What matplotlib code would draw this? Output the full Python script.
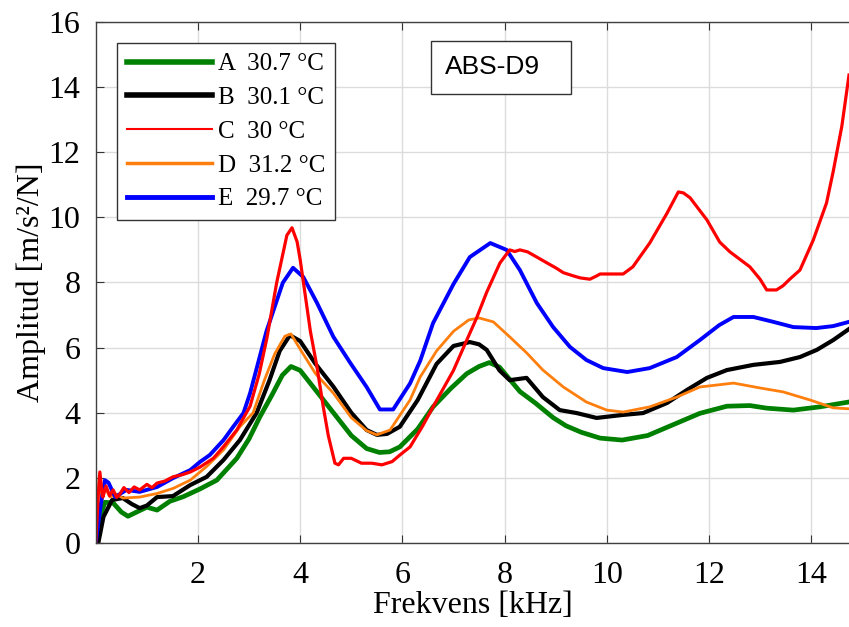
import numpy as np
import matplotlib
matplotlib.use('Agg')
import matplotlib.pyplot as plt
from matplotlib.patches import Rectangle

# values (frequency in kHz, amplitude in m/s^2/N)
f_A = [0, 0.08, 0.18, 0.34, 0.5, 0.63, 0.8, 1.0, 1.2, 1.45, 1.71, 2.04, 2.37, 2.76, 3.0, 3.21,
       3.45, 3.65, 3.82, 4.0, 4.3, 4.65, 5.0, 5.3, 5.55, 5.75, 5.95, 6.3, 6.6, 6.95, 7.26, 7.5,
       7.7, 7.9, 8.3, 8.6, 8.95, 9.2, 9.5, 9.87, 10.3, 10.8, 11.37, 11.82, 12.35, 12.8, 13.13,
       13.65, 14.17, 14.74]
a_A = [0, 0.8, 1.25, 1.23, 0.95, 0.82, 0.95, 1.1, 1.01, 1.28, 1.42, 1.66, 1.93, 2.6, 3.2, 3.87,
       4.55, 5.15, 5.42, 5.3, 4.7, 4.0, 3.3, 2.9, 2.78, 2.8, 2.95, 3.5, 4.18, 4.75, 5.2, 5.42,
       5.54, 5.4, 4.65, 4.3, 3.85, 3.6, 3.4, 3.22, 3.16, 3.3, 3.68, 3.98, 4.2, 4.22, 4.14,
       4.08, 4.18, 4.33]

f_B = [0.05, 0.15, 0.32, 0.53, 0.7, 0.86, 1.0, 1.2, 1.51, 1.85, 2.17, 2.5, 2.82, 3.15, 3.4, 3.6,
       3.8, 4.0, 4.3, 4.65, 5.0, 5.3, 5.5, 5.7, 5.95, 6.3, 6.67, 7.0, 7.32, 7.5, 7.65, 7.9, 8.1,
       8.43, 8.75, 9.08, 9.41, 9.8, 10.3, 10.71, 11.18, 11.57, 11.96, 12.35, 12.87, 13.39,
       13.78, 14.11, 14.43, 14.74]
a_B = [0, 0.8, 1.32, 1.38, 1.2, 1.07, 1.15, 1.41, 1.44, 1.78, 2.03, 2.55, 3.16, 4.0, 5.0, 5.9,
       6.38, 6.2, 5.5, 4.8, 4.0, 3.47, 3.32, 3.35, 3.57, 4.39, 5.5, 6.05, 6.17, 6.1, 5.93, 5.3, 5.0,
       5.07, 4.48, 4.08, 3.99, 3.84, 3.93, 3.99, 4.3, 4.7, 5.07, 5.31, 5.47, 5.56,
       5.71, 5.93, 6.23, 6.57]

f_C = [0, 0.05, 0.08, 0.12, 0.14, 0.2, 0.27, 0.34, 0.41, 0.47, 0.55, 0.65, 0.75, 0.86, 1.0, 1.1,
       1.2, 1.35, 1.51, 1.7, 1.85, 2.04, 2.3, 2.5, 2.76, 3.02, 3.2, 3.35, 3.54, 3.74, 3.84, 3.94,
       4.0, 4.1, 4.2, 4.33, 4.45, 4.55, 4.68, 4.75, 4.85, 5.0, 5.2, 5.4, 5.6, 5.8, 5.95, 6.15,
       6.4, 6.6, 7.0, 7.26, 7.45, 7.65, 7.91, 8.1, 8.2, 8.3, 8.45, 8.63, 8.83, 9.0, 9.15, 9.35,
       9.48, 9.67, 9.8, 9.87, 10.1, 10.32, 10.51, 10.84, 11.18, 11.4, 11.5, 11.63, 11.96, 12.21,
       12.41, 12.8, 13.0, 13.13, 13.32, 13.45, 13.58, 13.78, 14.04, 14.3, 14.43, 14.6, 14.74]
a_C = [0, 1.5, 2.18, 1.6, 1.41, 1.75, 1.45, 1.63, 1.4, 1.5, 1.7, 1.55, 1.72, 1.63, 1.8, 1.7,
       1.84, 1.9, 2.03, 2.1, 2.18, 2.33, 2.6, 2.96, 3.47, 4.2, 5.2, 6.3, 7.99, 9.45, 9.68, 9.25,
       8.7, 7.6, 6.5, 5.4, 4.2, 3.3, 2.45, 2.4, 2.6, 2.6, 2.45, 2.45, 2.4, 2.5, 2.7, 2.95,
       3.6, 4.18, 5.3, 6.23, 6.9, 7.7, 8.6, 9.0, 8.95, 9.0, 8.94, 8.78, 8.6, 8.45, 8.3, 8.2,
       8.14, 8.1, 8.2, 8.26, 8.26, 8.26, 8.48, 9.21, 10.13, 10.78, 10.75, 10.6, 9.92, 9.24,
       8.94, 8.48, 8.1, 7.77, 7.77, 7.9, 8.1, 8.38, 9.3, 10.44, 11.4, 12.8, 14.37]

f_D = [0, 0.07, 0.12, 0.18, 0.28, 0.4, 0.53, 0.86, 1.2, 1.52, 1.85, 2.17, 2.5, 2.82, 3.08, 3.3,
       3.5, 3.7, 3.82, 4.0, 4.3, 4.65, 5.0, 5.3, 5.5, 5.76, 6.15, 6.35, 6.67, 7.0, 7.3, 7.5, 7.78,
       8.1, 8.43, 8.75, 9.15, 9.6, 10.0, 10.32, 10.84, 11.37, 11.82, 12.48, 13.0, 13.45, 13.98,
       14.43, 14.74]
a_D = [0, 2.1, 1.3, 1.7, 1.41, 1.5, 1.38, 1.41, 1.52, 1.68, 1.93, 2.35, 2.86, 3.57, 4.0, 5.0,
       5.8, 6.35, 6.42, 5.95, 5.2, 4.6, 3.85, 3.45, 3.32, 3.47, 4.39, 5.1, 5.9, 6.5, 6.85, 6.91, 6.79,
       6.33, 5.84, 5.31, 4.79, 4.33, 4.08, 4.02, 4.18, 4.48, 4.79, 4.91, 4.76, 4.64, 4.39,
       4.15, 4.12]

f_E = [0, 0.1, 0.18, 0.25, 0.38, 0.6, 0.86, 1.2, 1.51, 1.85, 2.04, 2.23, 2.5, 2.69, 2.89, 3.02,
       3.34, 3.66, 3.86, 4.06, 4.33, 4.65, 4.98, 5.3, 5.56, 5.82, 6.15, 6.35, 6.6, 7.0, 7.32, 7.72,
       8.04, 8.3, 8.63, 8.95, 9.28, 9.6, 9.93, 10.4, 10.84, 11.37, 11.82, 12.2, 12.48, 12.87,
       13.26, 13.65, 14.1, 14.43, 14.74]
a_E = [0, 1.2, 1.93, 1.85, 1.41, 1.63, 1.57, 1.72, 1.99, 2.24, 2.49, 2.7, 3.16, 3.57, 3.99, 4.6,
       6.5, 7.99, 8.45, 8.17, 7.37, 6.33, 5.53, 4.79, 4.1, 4.1, 4.9, 5.6, 6.75, 7.95, 8.78, 9.21,
       9.0, 8.38, 7.37, 6.63, 6.02, 5.62, 5.37, 5.25, 5.37, 5.71, 6.23, 6.69, 6.94, 6.94,
       6.79, 6.63, 6.6, 6.66, 6.79]

labels = ['A  30.7 °C', 'B  30.1 °C', 'C  30 °C', 'D  31.2 °C', 'E  29.7 °C']

plt.rcParams['font.family'] = ['Liberation Serif', 'DejaVu Serif']

fig = plt.figure(figsize=(8.49, 6.27), dpi=100)
ax = fig.add_axes([0.1128, 0.134, 0.8872, 0.831])

lA, = ax.plot(f_A, a_A, color='#008000', lw=3.4, label=labels[0])
lB, = ax.plot(f_B, a_B, color='black', lw=3.0, label=labels[1])
lC, = ax.plot(f_C, a_C, color='#ff0000', lw=2.3, label=labels[2])
lD, = ax.plot(f_D, a_D, color='#ff7f0e', lw=2.0, label=labels[3])
lE, = ax.plot(f_E, a_E, color='#0000ff', lw=2.8, label=labels[4])
lC.set_zorder(2.5)

ax.set_xlim(0, 14.74)
ax.set_ylim(0, 16)
ax.set_xticks([2, 4, 6, 8, 10, 12, 14])
ax.set_yticks(range(0, 17, 2))
ax.grid(True, color='#dcdcdc', lw=1.0)
ax.set_axisbelow(True)
ax.tick_params(direction='in', length=6, top=True, right=False, labelsize=23,
               color='#333333')
ax.tick_params(axis='x', pad=13)
ax.tick_params(axis='y', pad=11)
for s in ['left', 'bottom', 'top']:
    ax.spines[s].set_color('#404040')
    ax.spines[s].set_linewidth(1.0)
ax.spines['right'].set_visible(False)

ax.set_xlabel('Frekvens [kHz]', fontsize=23, labelpad=1)
ax.set_ylabel('Amplitud [m/s²/N]', fontsize=23, labelpad=2)

leg = ax.legend(handles=[lA, lB, lC, lD, lE], loc='upper left',
                bbox_to_anchor=(0.028, 0.96), borderaxespad=0, fontsize=18,
                handlelength=3.4, handletextpad=0.25, labelspacing=0.45,
                fancybox=False, framealpha=1, edgecolor='#333333',
                borderpad=0.4)
leg.get_frame().set_linewidth(1.0)
for h, w in zip(leg.get_lines(), [4, 4, 1.5, 2.5, 3.5]):
    h.set_linewidth(w)

ax.add_patch(Rectangle((0.445, 0.862), 0.186, 0.1015, transform=ax.transAxes,
                       fc='white', ec='#333333', lw=1.0, zorder=5))
ax.text(0.527, 0.913, 'ABS-D9', transform=ax.transAxes, ha='center', va='center',
        fontsize=19, family='Liberation Sans', zorder=6)

fig.savefig('out.png', dpi=100)
